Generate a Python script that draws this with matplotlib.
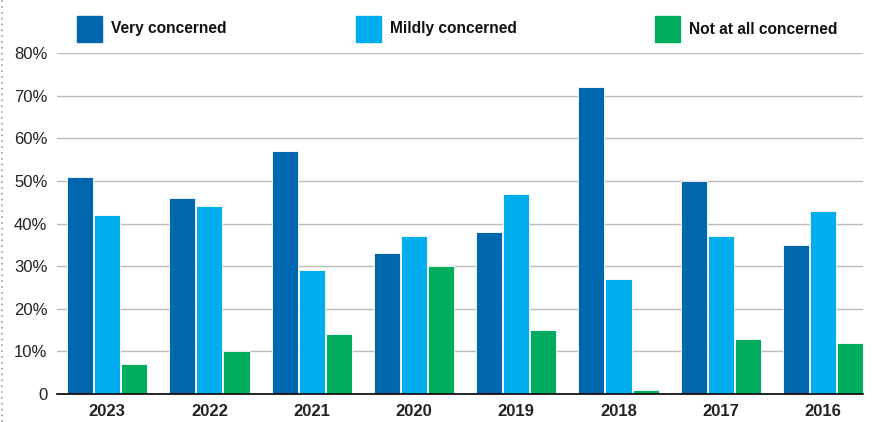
import numpy as np
import matplotlib.pyplot as plt
from matplotlib.patches import Rectangle
from matplotlib.lines import Line2D

years = ["2023", "2022", "2021", "2020", "2019", "2018", "2017", "2016"]
very = [51, 46, 57, 33, 38, 72, 50, 35]
mildly = [42, 44, 29, 37, 47, 27, 37, 43]
not_at_all = [7, 10, 14, 30, 15, 1, 13, 12]
series_labels = ["Very concerned", "Mildly concerned", "Not at all concerned"]
colors = ["#0067AC", "#00AEEF", "#00AD5F"]

plt.rcParams['font.family'] = ['Liberation Sans', 'DejaVu Sans']

fig = plt.figure(figsize=(8.83, 4.22), dpi=100)
ax = fig.add_axes([57/883, 28/422, 806/883, 341/422])

x = np.arange(len(years))
w = 0.255
step = 0.265
for i, (vals, c) in enumerate(zip([very, mildly, not_at_all], colors)):
    ax.bar(x + (i - 1) * step, vals, w, color=c, edgecolor='white', linewidth=0.6, zorder=3)

ax.set_xlim(-0.49, 7.39)
ax.set_ylim(0, 80)
ax.set_yticks(range(0, 81, 10))
ax.set_yticklabels(["0"] + [f"{v}%" for v in range(10, 81, 10)], fontsize=12, color='#222222')
ax.set_xticks(x)
ax.set_xticklabels(years, fontsize=12, fontweight='bold', color='#222222')
ax.tick_params(length=0, pad=7)
ax.tick_params(axis='y', pad=7)
ax.grid(axis='y', color='#BBBBBB', linewidth=1, zorder=0)
for s in ['top', 'right', 'left']:
    ax.spines[s].set_visible(False)
ax.spines['bottom'].set_color('black')
ax.spines['bottom'].set_linewidth(1.2)
ax.spines['bottom'].set_zorder(4)

# legend
leg_x = [77, 356, 655]
for lx, lab, c in zip(leg_x, series_labels, colors):
    fig.add_artist(Rectangle((lx/883, 1 - 42/422), 25/883, 26/422, color=c, transform=fig.transFigure))
    fig.text((lx + 34)/883, 1 - 29/422, lab, fontsize=11.2, fontweight='bold', va='center', color='#111111')

# dotted left border
fig.add_artist(Line2D([2/883, 2/883], [0, 1], color='#999999', linestyle=(0, (1, 2.5)), linewidth=1.2, transform=fig.transFigure))

fig.savefig("out.png", dpi=100)
